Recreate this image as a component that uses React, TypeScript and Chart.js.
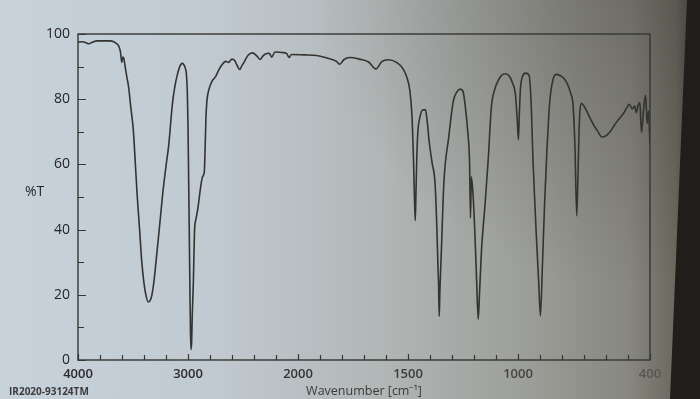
import React, { useEffect, useRef } from 'react';
import { Chart, LinearScale, registerables } from 'chart.js';

Chart.register(...registerables);

// Wavenumber (cm^-1)
const wavenumbers = [
  4000, 3960, 3920, 3900, 3870, 3820, 3760, 3706, 3680, 3659, 3640, 3628, 3614, 3602, 3592, 3584, 3576, 3560,
  3539, 3520, 3497, 3480, 3463, 3440, 3421, 3400, 3380, 3362, 3345, 3329, 3310, 3290, 3260, 3230, 3200, 3175,
  3142, 3120, 3098, 3075, 3055, 3040, 3025, 3014, 3006, 3000, 2994, 2988, 2982, 2977, 2972, 2967, 2961, 2952,
  2940, 2930, 2915, 2906, 2885, 2868, 2852, 2844, 2837, 2828, 2809, 2780, 2748, 2720, 2693, 2657, 2631, 2600,
  2575, 2556, 2529, 2510, 2491, 2454, 2414, 2373, 2345, 2320, 2304, 2262, 2239, 2209, 2143, 2102, 2083, 2058,
  1971, 1915, 1856, 1825, 1810, 1792, 1765, 1722, 1679, 1646, 1619, 1591, 1552, 1523, 1505, 1492, 1482, 1475,
  1471, 1467, 1464, 1460, 1455, 1446, 1434, 1421, 1413, 1404, 1390, 1377, 1369, 1364, 1361, 1358, 1355, 1349,
  1337, 1315, 1294, 1276, 1262, 1250, 1240, 1228, 1220, 1216, 1212, 1204, 1196, 1188, 1181, 1175, 1166, 1148,
  1135, 1121, 1105, 1091, 1075, 1057, 1040, 1025, 1012, 1004, 998, 994, 989, 980, 965, 950, 941, 931, 917, 906,
  898, 889, 879, 869, 856, 841, 825, 808, 794, 776, 760, 750, 741, 733, 727, 721, 711, 695, 676, 655, 638, 618,
  600, 585, 553, 517, 500, 494, 480, 470, 462, 454, 446, 442, 438, 430, 420, 413, 407, 400,
];

// Transmittance (%T) at each wavenumber
const transmittance = [
  97.5, 97.6, 97.2, 97.0, 97.5, 97.9, 97.9, 97.9, 97.7, 97.3, 96.8, 96.2, 94.5, 91.3, 92.9, 92.6, 91.0, 87.6,
  83.5, 77.5, 70.5, 61.0, 51.0, 40.0, 30.4, 23.5, 19.5, 17.8, 18.2, 19.8, 24.0, 30.4, 40.5, 51.0, 59.5, 66.0,
  78.5, 83.8, 87.4, 90.0, 91.0, 90.7, 89.6, 87.5, 82.0, 72.0, 55.0, 38.0, 20.0, 8.0, 3.2, 5.5, 14.0, 23.0,
  40.0, 42.8, 45.5, 47.6, 53.0, 56.2, 57.7, 65.3, 74.2, 79.5, 83.1, 85.6, 87.0, 89.0, 90.5, 91.6, 91.3, 92.3,
  91.9, 90.5, 89.1, 90.3, 91.3, 93.5, 94.2, 93.2, 92.2, 93.2, 93.7, 94.1, 92.9, 94.5, 94.3, 94.0, 92.8, 93.7,
  93.6, 93.4, 92.4, 91.6, 90.7, 92.1, 92.8, 92.3, 91.4, 89.3, 91.5, 92.1, 91.3, 89.4, 86.7, 82.8, 75.0, 61.3,
  50.6, 42.8, 50.6, 62.3, 70.1, 74.4, 76.7, 76.8, 73.4, 67.1, 60.3, 54.2, 40.8, 29.2, 23.3, 13.4, 21.4, 32.1,
  54.3, 68.3, 79.4, 82.4, 83.1, 82.4, 78.0, 69.8, 60.1, 43.6, 56.2, 50.4, 38.8, 24.2, 12.5, 20.3, 33.5, 49.3,
  61.9, 77.6, 83.2, 85.6, 87.3, 87.8, 87.1, 85.0, 81.6, 74.3, 67.6, 75.3, 83.0, 86.9, 88.0, 87.4, 80.0, 59.8, 38.6, 24.1,
  13.5, 28.9, 48.2, 63.6, 79.0, 86.0, 87.6, 87.2, 86.6, 84.8, 81.7, 78.3, 65.3, 44.2, 57.6, 73.0, 78.7, 77.3, 74.7, 72.0, 70.2, 68.4,
  68.8, 69.7, 72.9, 76.0, 78.0, 78.4, 77.0, 77.9, 75.9, 78.2, 79.0, 73.6, 69.8, 76.4, 81.2, 72.6, 76.4, 65.9,
];

const xTickLabels = [4000, 3000, 2000, 1500, 1000, 400];
const xMinorTicks = [3800, 3600, 3400, 3200, 2800, 2600, 2400, 2200, 1900, 1800, 1700, 1600, 1400, 1300, 1200, 1100, 900, 800, 700, 600, 500];
const yTickLabels = [0, 20, 40, 60, 80, 100];
const yMinorTicks = [10, 30, 50, 70, 90];
const xLabelColors = ['#2a2a2a', '#2c2c2c', '#34342f', '#3d3c37', '#45443e', '#57564f'];

const X_MAX = 4000;
const X_MIN = 400;
const BREAK_WN = 2000; // scale doubles below 2000 cm-1
const toPos = (w: number) => (w >= BREAK_WN ? X_MAX - w : X_MAX - BREAK_WN + 2 * (BREAK_WN - w));
const SPAN = toPos(X_MIN);

class WavenumberScale extends LinearScale {
  static id = 'wavenumber';
  static defaults = {};
  buildTicks() {
    return xTickLabels.map((v) => ({ value: v }));
  }
  getPixelForValue(value: number) {
    if (value === null || value === undefined || isNaN(value)) return NaN;
    return this.getPixelForDecimal(toPos(value) / SPAN);
  }
  getValueForPixel(pixel: number) {
    const p = this.getDecimalForPixel(pixel) * SPAN;
    return p <= X_MAX - BREAK_WN ? X_MAX - p : BREAK_WN - (p - (X_MAX - BREAK_WN)) / 2;
  }
}
Chart.register(WavenumberScale as any);

const decorPlugin = {
  id: 'decor',
  beforeDraw(chart: any) {
    const { ctx, width, height } = chart;
    ctx.save();
    const g = ctx.createLinearGradient(0, 0, width, 0);
    g.addColorStop(0, '#c7d2db');
    g.addColorStop(0.3, '#c1cad1');
    g.addColorStop(0.55, '#b1b6b6');
    g.addColorStop(0.75, '#9c9e99');
    g.addColorStop(0.9, '#87877f');
    g.addColorStop(0.965, '#6a685f');
    g.addColorStop(1, '#3a3832');
    ctx.fillStyle = g;
    ctx.fillRect(0, 0, width, height);
    const r = ctx.createRadialGradient(640, -40, 10, 640, -40, 330);
    r.addColorStop(0, 'rgba(55,52,45,0.35)');
    r.addColorStop(1, 'rgba(55,52,45,0)');
    ctx.fillStyle = r;
    ctx.fillRect(0, 0, width, height);
    ctx.fillStyle = '#201e1a';
    ctx.beginPath();
    ctx.moveTo(687, 0);
    ctx.lineTo(width, 0);
    ctx.lineTo(width, height);
    ctx.lineTo(670, height);
    ctx.closePath();
    ctx.fill();
    ctx.restore();
  },
  afterDraw(chart: any) {
    const { ctx, chartArea } = chart;
    const { left, right, top, bottom } = chartArea;
    const xs = chart.scales.x;
    const ys = chart.scales.y;
    ctx.save();
    ctx.strokeStyle = '#363633';
    ctx.lineWidth = 1.4;
    ctx.strokeRect(left, top, right - left, bottom - top);
    ctx.lineWidth = 1.2;
    ctx.beginPath();
    yTickLabels.forEach((v) => {
      const y = Math.round(ys.getPixelForValue(v)) + 0.5;
      ctx.moveTo(left, y);
      ctx.lineTo(left + 8, y);
    });
    yMinorTicks.forEach((v) => {
      const y = Math.round(ys.getPixelForValue(v)) + 0.5;
      ctx.moveTo(left, y);
      ctx.lineTo(left + 6, y);
    });
    xTickLabels.forEach((v) => {
      const x = Math.round(xs.getPixelForValue(v)) + 0.5;
      ctx.moveTo(x, bottom);
      ctx.lineTo(x, bottom - 6);
    });
    xMinorTicks.forEach((v) => {
      const x = Math.round(xs.getPixelForValue(v)) + 0.5;
      ctx.moveTo(x, bottom);
      ctx.lineTo(x, bottom - 5);
    });
    ctx.stroke();
    ctx.fillStyle = '#262626';
    ctx.font = '14px "Open Sans"';
    ctx.textBaseline = 'middle';
    ctx.textAlign = 'left';
    ctx.fillText('%T', 25, 192);
    ctx.fillStyle = '#3c3c3c';
    ctx.font = 'bold 10px "Open Sans"';
    ctx.fillText('IR2020-93124TM', 9, 392);
    ctx.restore();
  },
};

export default function App() {
  const ref = useRef<HTMLCanvasElement>(null);
  useEffect(() => {
    const canvas = ref.current;
    if (!canvas) return;
    const points = wavenumbers.map((w, i) => ({ x: w, y: transmittance[i] }));
    const chart = new Chart(canvas, {
      type: 'line',
      data: {
        datasets: [
          {
            data: points,
            borderColor: '#333331',
            borderWidth: 1.6,
            pointRadius: 0,
            fill: false,
            cubicInterpolationMode: 'monotone',
          },
        ],
      },
      options: {
        responsive: false,
        animation: false,
        layout: { padding: { left: 0, right: 50, top: 34, bottom: 0 } },
        plugins: {
          legend: { display: false },
          tooltip: { enabled: false },
          title: { display: false },
        },
        scales: {
          x: {
            type: 'wavenumber',
            min: X_MIN,
            max: X_MAX,
            afterFit: (s: any) => {
              s.height = 39;
            },
            grid: { display: false, drawTicks: false },
            border: { display: false },
            ticks: {
              autoSkip: false,
              maxRotation: 0,
              padding: 6,
              callback: (v: any) => String(v),
              color: (c: any) => xLabelColors[c.index] || '#333',
              font: { family: '"Open Sans"', size: 13, weight: '600' },
            },
            title: {
              display: true,
              text: 'Wavenumber [cm⁻¹]',
              padding: { top: 0, bottom: 0 },
              color: '#3c3b36',
              font: { family: '"Open Sans"', size: 12.5 },
            },
          },
          y: {
            type: 'linear',
            min: 0,
            max: 100,
            afterFit: (s: any) => {
              s.width = 78;
            },
            grid: { display: false, drawTicks: false },
            border: { display: false },
            ticks: {
              stepSize: 20,
              padding: 8,
              callback: (v: any) => String(v),
              color: '#262626',
              font: { family: '"Open Sans"', size: 14 },
            },
          },
        },
      } as any,
      plugins: [decorPlugin],
    });
    return () => chart.destroy();
  }, []);
  return (
    <div style={{ position: 'fixed', left: 0, top: 0, width: 700, height: 399 }}>
      <canvas ref={ref} width={700} height={399} style={{ display: 'block', width: 700, height: 399 }} />
    </div>
  );
}
